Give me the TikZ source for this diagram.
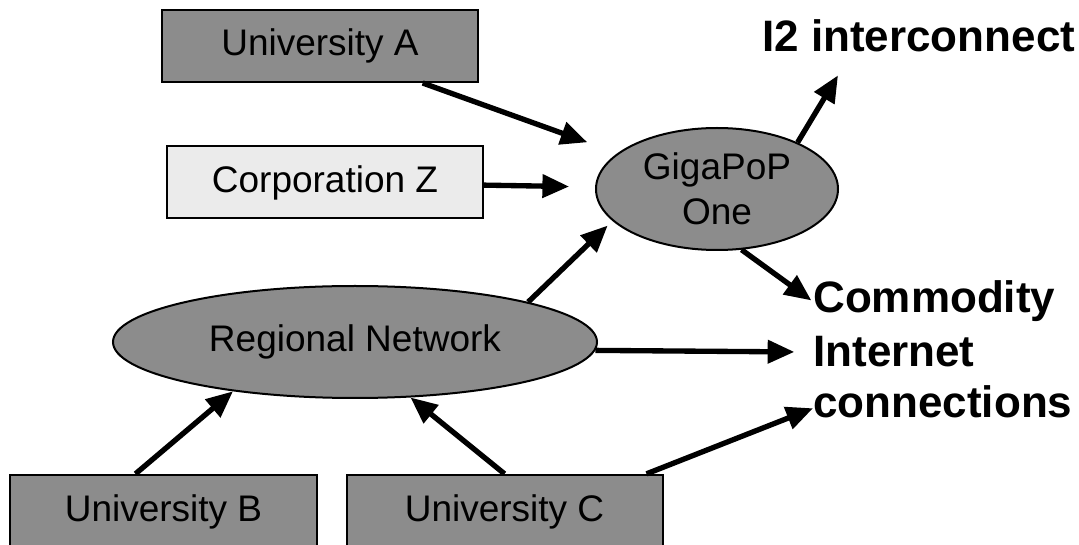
\documentclass[tikz,border=0pt]{standalone}
\usepackage{fontspec}
\setmainfont{Liberation Sans}
\usetikzlibrary{arrows.meta,shapes.geometric}

\begin{document}
\begin{tikzpicture}[
  x=0.75pt, y=-0.75pt,
  site/.style={draw,rectangle,line width=1.5pt,minimum width=237pt,minimum height=54pt,inner sep=0pt,font=\fontsize{27.75}{33}\selectfont},
  hub/.style={draw,ellipse,line width=1.5pt,fill=black!45,inner sep=0pt,align=center,font=\fontsize{27.75}{33.75}\selectfont},
  endtxt/.style={inner sep=0pt,font=\fontsize{33}{39}\selectfont\bfseries},
  arr/.style={-{Triangle[length=20pt,width=17pt]},line width=4pt}
]
\useasboundingbox (0,0) rectangle (1079,545);

\node[site,fill=black!45] (uniA) at (320,46) {University A};
\node[site,fill=black!8] (corpZ) at (325,182.5) {Corporation Z};
\node[hub,minimum width=181.5pt,minimum height=91.5pt] (giga) at (717,189) {GigaPoP\\One};
\node[hub,minimum width=363pt,minimum height=84pt] (regional) at (355,342) {Regional Network};
\node[site,fill=black!45,minimum width=230pt,minimum height=55pt] (uniB) at (163.5,511.5) {University B};
\node[site,fill=black!45,minimum height=55pt] (uniC) at (504.5,511.5) {University C};

\node[endtxt,anchor=base west] (i2) at (762,52) {I2 interconnect};
\node[endtxt,anchor=base west] (comm1) at (813,313) {Commodity};
\node[endtxt,anchor=base west] (comm2) at (813,367) {Internet};
\node[endtxt,anchor=base west] (comm3) at (813,418) {connections};

\draw[arr,shorten >=24pt] (uniA) -- (giga);
\draw[arr,shorten >=19.5pt] (corpZ) -- (giga);
\draw[arr,shorten >=5pt] (regional.13) -- (giga.197);
\draw[arr] (giga.30) -- ([xshift=57pt,yshift=-17pt]i2.south west);
\draw[arr,shorten >=1.5pt] (giga.292) -- (comm1.west);
\draw[arr,shorten >=14pt] (regional.-2) -- (comm2.west);
\draw[arr] ([xshift=-12.75pt]uniC.north east) -- ([yshift=-4.5pt]comm3.west);
\draw[arr] ([xshift=-21pt]uniB.north) -- (regional.202);
\draw[arr] (uniC.north) -- (regional.315);

\end{tikzpicture}
\end{document}
